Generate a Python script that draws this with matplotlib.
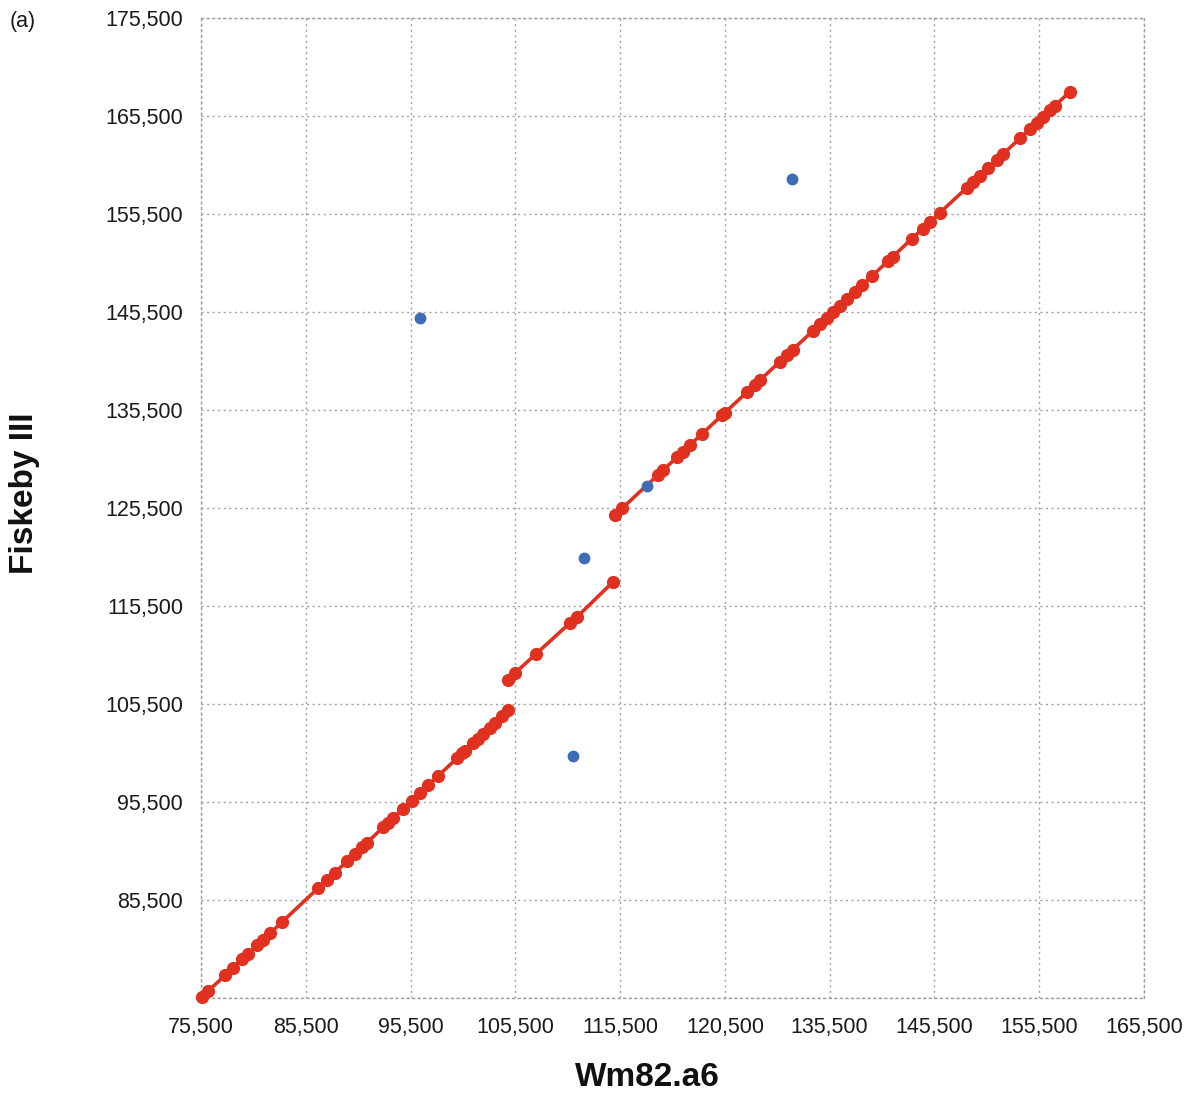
import matplotlib
matplotlib.use("Agg")
import matplotlib.pyplot as plt

plt.rcParams['font.family'] = ['Liberation Sans', 'DejaVu Sans']

# ---- data ----
seg1_x = [75595, 76168, 77790, 78553, 79412, 79985, 80844, 81416, 82084, 83229,
          86664, 87523, 88286, 89431, 90195, 90863, 91340, 92866, 93343, 93820,
          94775, 95633, 96397, 97160, 98114, 99927, 100404, 100690, 101454, 101931,
          102408, 103076, 103553, 104221, 104794]
seg1_y = [75600, 76200, 77800, 78600, 79450, 80000, 80900, 81450, 82100, 83250,
          86700, 87550, 88300, 89450, 90200, 90900, 91350, 92900, 93350, 93850,
          94800, 95650, 96400, 97200, 98150, 99950, 100450, 100700, 101500, 101950,
          102450, 103100, 103600, 104250, 104850]

seg2_x = [104794, 105462, 107466, 110711, 111379, 114814]
seg2_y = [107949, 108663, 110602, 113765, 114377, 117949]

seg3_x = [115004, 115672, 119107, 119584, 120920, 121492, 122160, 123305, 125214, 125500,
          127599, 128363, 128840, 130748, 131416, 131989, 133897, 134565, 135233, 135805,
          136473, 137141, 137905, 138573, 139527, 141054, 141531, 143344, 144393, 145061,
          146015, 148592, 149164, 149832, 150596, 151454, 152027, 153649, 154603, 155271,
          155844, 156512, 156989, 158420]
seg3_y = [124785, 125449, 128867, 129336, 130673, 131244, 131908, 133051, 134948, 135224,
          137316, 138071, 138540, 140438, 141101, 141673, 143571, 144234, 144898, 145469,
          146133, 146795, 147550, 148214, 149163, 150683, 151163, 152969, 154010, 154673,
          155622, 158183, 158754, 159418, 160173, 161030, 161601, 163214, 164163, 164826,
          165397, 166071, 166540, 167969]

outlier_x = [96397, 112046, 118057, 110996, 131893]
outlier_y = [144888, 120398, 127745, 100194, 159071]

x_ticks = [75500, 85500, 95500, 105500, 115500, 125500, 135500, 145500, 155500, 165500]
x_tick_labels = ["75,500", "85,500", "95,500", "105,500", "115,500", "120,500",
                 "135,500", "145,500", "155,500", "165,500"]
y_ticks = [75500, 85500, 95500, 105500, 115500, 125500, 135500, 145500, 155500, 165500, 175500]
y_tick_labels = ["", "85,500", "95,500", "105,500", "115,500", "125,500",
                 "135,500", "145,500", "155,500", "165,500", "175,500"]

RED = "#E0301F"
BLUE = "#3D6DB5"

W, H = 1190, 1095
fig = plt.figure(figsize=(W/100, H/100), dpi=100)
ax = fig.add_axes([201/W, 1-998/H, (1144-201)/W, (998-18)/H])

for sx, sy in [(seg1_x, seg1_y), (seg2_x, seg2_y), (seg3_x, seg3_y)]:
    ax.plot(sx, sy, color=RED, lw=2.6, marker='o', ms=8.5, mec=RED, mfc=RED,
            clip_on=False, zorder=3)
ax.plot(outlier_x, outlier_y, ls='none', marker='o', ms=7.5, color=BLUE,
        mec=BLUE, clip_on=False, zorder=4)

ax.set_xlim(75500, 165500)
ax.set_ylim(75500, 175500)
ax.set_xticks(x_ticks)
ax.set_xticklabels(x_tick_labels)
ax.set_yticks(y_ticks)
ax.set_yticklabels(y_tick_labels)
ax.tick_params(length=0, labelsize=15.5, colors='#1a1a1a', pad=13)
ax.tick_params(axis='x', pad=14)

grid_style = dict(color='#a0a0a0', lw=1.0, ls=(0, (1.5, 2.5)))
ax.grid(True, **grid_style)
for s in ax.spines.values():
    s.set_color('#a0a0a0')
    s.set_linewidth(1.0)
    s.set_linestyle((0, (1.5, 2.5)))
ax.set_axisbelow(True)

fig.text(647/W, 1-1077/H, "Wm82.a6", fontsize=24, fontweight='bold',
         ha='center', va='center', color='#111111')
fig.text(25/W, 1-493/H, "Fiskeby III", fontsize=24, fontweight='bold',
         ha='center', va='center', rotation=90, color='#111111')
fig.text(10/W, 1-22/H, "(a)", fontsize=15.5, va='center', ha='left', color='#1a1a1a')

fig.savefig("out.png", dpi=100)
